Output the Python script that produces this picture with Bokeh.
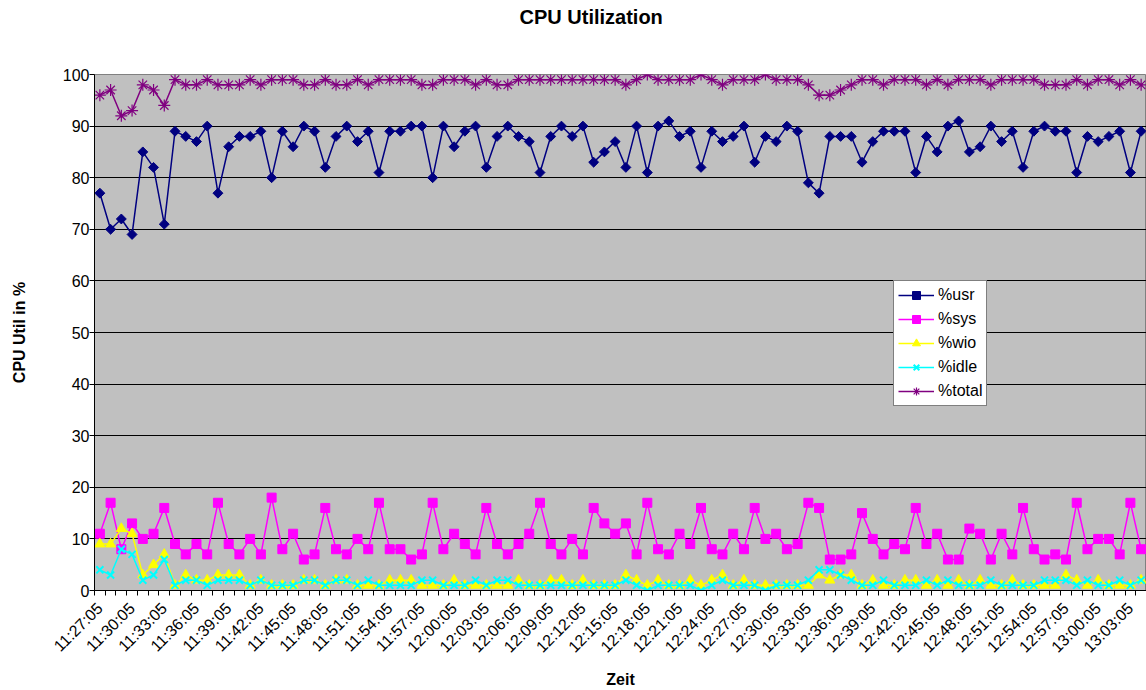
import math
from bokeh.plotting import figure
from bokeh.models import FixedTicker, Legend, LegendItem, Range1d, Title
from bokeh.embed import file_html
from bokeh.resources import INLINE

times = [
    "11:27:05", "11:28:05", "11:29:05", "11:30:05", "11:31:05", "11:32:05", "11:33:05", "11:34:05",
    "11:35:05", "11:36:05", "11:37:05", "11:38:05", "11:39:05", "11:40:05", "11:41:05", "11:42:05",
    "11:43:05", "11:44:05", "11:45:05", "11:46:05", "11:47:05", "11:48:05", "11:49:05", "11:50:05",
    "11:51:05", "11:52:05", "11:53:05", "11:54:05", "11:55:05", "11:56:05", "11:57:05", "11:58:05",
    "11:59:05", "12:00:05", "12:01:05", "12:02:05", "12:03:05", "12:04:05", "12:05:05", "12:06:05",
    "12:07:05", "12:08:05", "12:09:05", "12:10:05", "12:11:05", "12:12:05", "12:13:05", "12:14:05",
    "12:15:05", "12:16:05", "12:17:05", "12:18:05", "12:19:05", "12:20:05", "12:21:05", "12:22:05",
    "12:23:05", "12:24:05", "12:25:05", "12:26:05", "12:27:05", "12:28:05", "12:29:05", "12:30:05",
    "12:31:05", "12:32:05", "12:33:05", "12:34:05", "12:35:05", "12:36:05", "12:37:05", "12:38:05",
    "12:39:05", "12:40:05", "12:41:05", "12:42:05", "12:43:05", "12:44:05", "12:45:05", "12:46:05",
    "12:47:05", "12:48:05", "12:49:05", "12:50:05", "12:51:05", "12:52:05", "12:53:05", "12:54:05",
    "12:55:05", "12:56:05", "12:57:05", "12:58:05", "12:59:05", "13:00:05", "13:01:05", "13:02:05",
    "13:03:05", "13:04:05",
]

usr = [77, 70, 72, 69, 85, 82, 71, 89, 88, 87, 90, 77, 86, 88, 88, 89, 80, 89, 86, 90, 89, 82, 88, 90, 87,
       89, 81, 89, 89, 90, 90, 80, 90, 86, 89, 90, 82, 88, 90, 88, 87, 81, 88, 90, 88, 90, 83, 85, 87,
       82, 90, 81, 90, 91, 88, 89, 82, 89, 87, 88, 90, 83, 88, 87, 90, 89, 79, 77, 88, 88, 88, 83, 87,
       89, 89, 89, 81, 88, 85, 90, 91, 85, 86, 90, 87, 89, 82, 89, 90, 89, 89, 81, 88, 87, 88, 89, 81, 89]

sys_ = [11, 17, 8, 13, 10, 11, 16, 9, 7, 9, 7, 17, 9, 7, 10, 7, 18, 8, 11, 6, 7, 16, 8, 7, 10,
        8, 17, 8, 8, 6, 7, 17, 8, 11, 9, 7, 16, 9, 7, 9, 11, 17, 9, 7, 10, 7, 16, 13, 11,
        13, 7, 17, 8, 7, 11, 9, 16, 8, 7, 11, 8, 16, 10, 11, 8, 9, 17, 16, 6, 6, 7, 15, 10,
        7, 9, 8, 16, 9, 11, 6, 6, 12, 11, 6, 11, 7, 16, 8, 6, 7, 6, 17, 8, 10, 10, 7, 17, 8]

wio = [9, 9, 12, 11, 3, 5, 7, 1, 3, 2, 2, 3, 3, 3, 1, 2, 1, 1, 1, 2, 2, 1, 2, 2, 1,
       1, 1, 2, 2, 2, 1, 1, 1, 2, 1, 1, 1, 1, 1, 2, 1, 1, 2, 2, 1, 2, 1, 1, 1,
       3, 2, 1, 2, 1, 1, 2, 1, 2, 3, 1, 2, 1, 1, 1, 1, 1, 1, 3, 2, 3, 3, 1, 2,
       1, 1, 2, 2, 1, 2, 1, 2, 1, 2, 1, 1, 2, 1, 1, 1, 1, 3, 2, 1, 2, 1, 1, 1, 2]

idle = [4, 3, 8, 7, 2, 3, 6, 1, 2, 2, 1, 2, 2, 2, 1, 2, 1, 1, 1, 2, 2, 1, 2, 2, 1,
        2, 1, 1, 1, 1, 2, 2, 1, 1, 1, 2, 1, 2, 2, 1, 1, 1, 1, 1, 1, 1, 1, 1, 1,
        2, 1, 0, 1, 1, 1, 1, 0, 1, 2, 1, 1, 1, 0, 1, 1, 1, 2, 4, 4, 3, 2, 1, 1,
        2, 1, 1, 1, 2, 1, 2, 1, 1, 1, 2, 1, 1, 1, 1, 2, 2, 2, 1, 2, 1, 1, 2, 1, 2]

total = [96, 97, 92, 93, 98, 97, 94, 99, 98, 98, 99, 98, 98, 98, 99, 98, 99, 99, 99, 98, 98, 99, 98, 98, 99,
         98, 99, 99, 99, 99, 98, 98, 99, 99, 99, 98, 99, 98, 98, 99, 99, 99, 99, 99, 99, 99, 99, 99, 99,
         98, 99, 100, 99, 99, 99, 99, 100, 99, 98, 99, 99, 99, 100, 99, 99, 99, 98, 96, 96, 97, 98, 99, 99,
         98, 99, 99, 99, 98, 99, 98, 99, 99, 99, 98, 99, 99, 99, 99, 98, 98, 98, 99, 98, 99, 99, 98, 99, 98]

series_names = ["%usr", "%sys", "%wio", "%idle", "%total"]
y_ticks = [0, 10, 20, 30, 40, 50, 60, 70, 80, 90, 100]
chart_title = "CPU Utilization"

FONT = "Liberation Sans"
x = list(range(len(times)))

p = figure(width=1146, height=690, x_range=Range1d(-0.5, len(times) - 0.5), y_range=Range1d(0, 100),
           output_backend="svg", toolbar_location=None, title=None,
           min_border_left=94, min_border_right=0, min_border_top=74, min_border_bottom=100)

p.background_fill_color = "#C0C0C0"
p.border_fill_color = "white"
p.outline_line_color = "#808080"
p.outline_line_width = 1

# spacer (closest to the frame), then the real title further out
spacer = Title(text=" ", text_font=FONT, text_font_size="10px", standoff=28)
p.add_layout(spacer, "above")
main_title = Title(text=chart_title, align="left", offset=425, vertical_align="top", standoff=8,
                   text_font=FONT, text_font_size="20px", text_font_style="bold", text_color="black")
p.add_layout(main_title, "above")

p.xgrid.visible = False
p.ygrid.ticker = FixedTicker(ticks=y_ticks)
p.ygrid.grid_line_color = "black"
p.ygrid.grid_line_width = 1

ya = p.yaxis[0]
ya.ticker = FixedTicker(ticks=y_ticks)
ya.axis_label = "CPU Util in %"
ya.axis_label_text_font = FONT
ya.axis_label_text_font_size = "16px"
ya.axis_label_text_font_style = "bold"
ya.axis_label_text_color = "black"
ya.axis_label_standoff = 32
ya.major_label_text_font = FONT
ya.major_label_text_font_size = "16px"
ya.major_label_text_color = "black"
ya.major_label_standoff = 0
ya.major_tick_out = 5
ya.major_tick_in = 0
ya.minor_tick_out = 0
ya.minor_tick_in = 0
ya.axis_line_color = "black"
ya.major_tick_line_color = "black"

xa = p.xaxis[0]
label_ticks = list(range(0, len(times), 3))
xa.ticker = FixedTicker(ticks=label_ticks, minor_ticks=[i - 0.5 for i in range(len(times) + 1)])
xa.major_label_overrides = {i: times[i] for i in label_ticks}
xa.major_label_orientation = math.pi / 4
xa.major_label_text_font = FONT
xa.major_label_text_font_size = "16px"
xa.major_label_text_color = "black"
xa.major_label_standoff = 10
xa.major_tick_out = 0
xa.major_tick_in = 0
xa.minor_tick_out = 5
xa.minor_tick_in = 0
xa.minor_tick_line_color = "black"
xa.axis_line_color = "black"
xa.axis_label = "Zeit"
xa.axis_label_text_font = FONT
xa.axis_label_text_font_size = "16px"
xa.axis_label_text_font_style = "bold"
xa.axis_label_text_color = "black"
xa.axis_label_standoff = 6

items = []

l1 = p.line(x, usr, line_color="#000080", line_width=1.5)
s1 = p.scatter(x, usr, marker="square", angle=math.pi / 4, size=7, fill_color="#000080", line_color="#000080")
items.append(LegendItem(label=series_names[0], renderers=[l1, s1]))

l2 = p.line(x, sys_, line_color="#FF00FF", line_width=1.5)
s2 = p.scatter(x, sys_, marker="square", size=9, fill_color="#FF00FF", line_color="#FF00FF")
items.append(LegendItem(label=series_names[1], renderers=[l2, s2]))

l3 = p.line(x, wio, line_color="#FFFF00", line_width=1.5)
s3 = p.scatter(x, wio, marker="triangle", size=10, fill_color="#FFFF00", line_color="#FFFF00")
items.append(LegendItem(label=series_names[2], renderers=[l3, s3]))

l4 = p.line(x, idle, line_color="#00FFFF", line_width=1.5)
s4 = p.scatter(x, idle, marker="x", size=10, line_color="#00FFFF", line_width=2)
items.append(LegendItem(label=series_names[3], renderers=[l4, s4]))

l5 = p.line(x, total, line_color="#800080", line_width=1.5)
s5 = p.scatter(x, total, marker="asterisk", size=12, line_color="#800080", line_width=1.2)
items.append(LegendItem(label=series_names[4], renderers=[l5, s5]))

legend = Legend(items=items, location=(799, 184))
legend.background_fill_color = "white"
legend.background_fill_alpha = 1.0
legend.border_line_color = "black"
legend.border_line_width = 1
legend.label_text_font = FONT
legend.label_text_font_size = "16px"
legend.label_text_color = "black"
legend.glyph_width = 36
legend.glyph_height = 20
legend.label_height = 20
legend.spacing = 4
legend.padding = 4
legend.margin = 0
legend.label_standoff = 4
p.add_layout(legend)

open("out.html", "w").write(file_html(p, INLINE))
